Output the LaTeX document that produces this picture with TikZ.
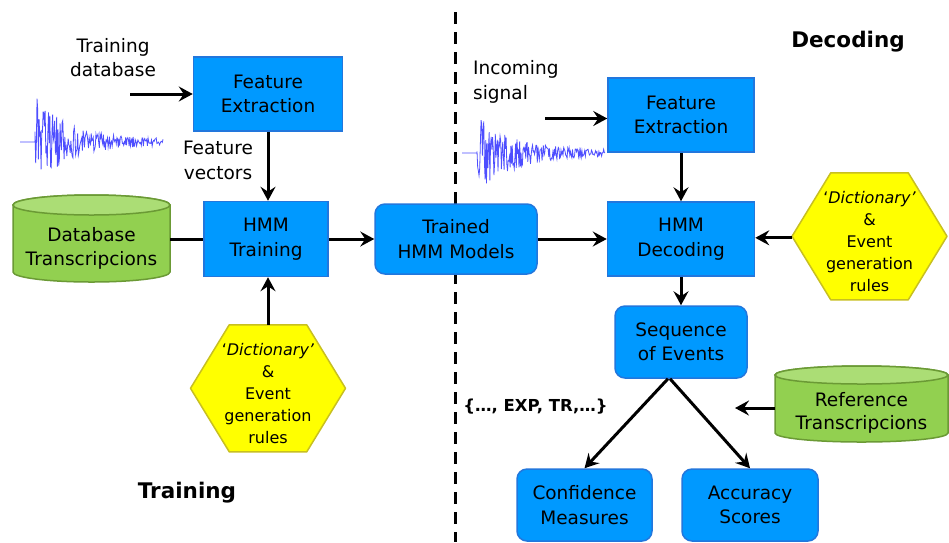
\documentclass[tikz,border=0pt]{standalone}
\usepackage{fontspec}
\setmainfont{DejaVu Sans}
\usetikzlibrary{arrows.meta,calc,backgrounds}
\definecolor{boxblue}{HTML}{0099FF}
\definecolor{boxedge}{HTML}{2277DD}
\definecolor{cylgreen}{HTML}{92D050}
\definecolor{cyltop}{HTML}{ABDD75}
\definecolor{cyledge}{HTML}{6B9A35}
\definecolor{hexyellow}{HTML}{FFFF00}
\definecolor{hexedge}{HTML}{C8C020}
\definecolor{waveblue}{HTML}{2222FF}
\tikzset{
  blk/.style={draw=boxedge, line width=1.5pt, fill=boxblue, align=center,
    font=\fontsize{18.5}{24.5}\selectfont, inner sep=0pt},
  rblk/.style={blk, rounded corners=10pt},
  cylnode/.style={align=center, font=\fontsize{18.5}{23.5}\selectfont, inner sep=0pt},
  hexnode/.style={align=center, font=\fontsize{16}{22}\selectfont, inner sep=0pt,
    minimum width=155pt, minimum height=138pt},
  lbl/.style={align=center, font=\fontsize{18.5}{24.5}\selectfont, inner sep=0pt},
  ttl/.style={font=\fontsize{21.5}{26}\selectfont\bfseries, inner sep=0pt},
  evtxt/.style={font=\fontsize{16.5}{20}\selectfont\bfseries, inner sep=0pt},
  arr/.style={line width=3pt, -{Stealth[length=14pt,width=15pt,inset=5pt]}},
  ln/.style={line width=3pt},
  dashline/.style={line width=3pt, dash pattern=on 12pt off 8pt},
  wave/.style={draw=waveblue, line width=0.8pt, opacity=0.8},
  hexdraw/.style={fill=hexyellow, draw=hexedge, line width=1.5pt, line join=round},
  cylbodystyle/.style={fill=cylgreen, draw=cyledge, line width=1.5pt},
  cyltopstyle/.style={fill=cyltop, draw=cyledge, line width=1.5pt},
}
\newcommand\wavedraw[2]{%
  \pgfmathsetseed{#2}%
  \begin{scope}[shift={#1}]
    \draw[wave] (0,0) -- (15,0) -- plot[domain=15:143, samples=190]
      (\x, {(3+44*exp(-(\x-15)/32))*rand});
  \end{scope}}
\newcommand\cyldraw[4]{% node, half width, half height, ry
  \begin{scope}[shift={(#1.center)}]
    \draw[cylbodystyle] ({-#2},{#3+#4}) -- ({-#2},{-#3+#4})
      arc[start angle=180, end angle=360, x radius=#2, y radius=#4]
      -- ({#2},{#3+#4}) arc[start angle=0, end angle=180, x radius=#2, y radius=#4] -- cycle;
    \draw[cyltopstyle] (0,{#3+#4}) ellipse[x radius=#2, y radius=#4];
  \end{scope}}
\newcommand\hexdrawcmd[1]{%
  \begin{scope}[shift={(#1.north)}]
    \draw[hexdraw] (-38.75,0) -- (38.75,0) -- (77.5,-63.5) -- (38.75,-127)
      -- (-38.75,-127) -- (-77.5,-63.5) -- cycle;
  \end{scope}}
\begin{document}
\begin{tikzpicture}[x=1pt, y=1pt]
\useasboundingbox (0,0) rectangle (949,-542);

% dashed separator
\coordinate (dtop) at (455.5,-12);
\coordinate (dbot) at (455.5,-542);
\draw[dashline] (dtop) -- (dbot);

% waveforms
\wavedraw{(20,-142)}{7}
\wavedraw{(462,-153)}{11}

% boxes
\node[blk, minimum width=149pt, minimum height=74pt] (fe1) at (268,-94) {Feature\\Extraction};
\node[blk, minimum width=124pt, minimum height=75pt] (hmmt) at (266,-239) {HMM\\Training};
\node[rblk, minimum width=162pt, minimum height=70pt] (trained) at (456,-239) {Trained\\HMM Models};
\node[blk, minimum width=146pt, minimum height=74pt] (fe2) at (681,-115) {Feature\\Extraction};
\node[blk, minimum width=147pt, minimum height=74pt] (hmmd) at (681,-239) {HMM\\Decoding};
\node[rblk, minimum width=132pt, minimum height=72pt] (seq) at (681,-342) {Sequence\\of Events};
\node[rblk, minimum width=135pt, minimum height=72pt] (conf) at (584.5,-505) {Confidence\\Measures};
\node[rblk, minimum width=136pt, minimum height=72pt] (acc) at (750,-505) {Accuracy\\Scores};

% cylinders
\node[cylnode, minimum width=157pt, minimum height=67pt] (db) at (91.5,-248.5) {Database\\Transcripcions};
\node[cylnode, minimum width=173pt, minimum height=58pt] (ref) at (861.5,-413) {Reference\\Transcripcions};

% hexagons
\node[hexnode] (dict1) at (268,-394) {‘\textit{Dictionary’}\\\&\\Event\\generation\\rules};
\node[hexnode] (dict2) at (869.5,-242) {‘\textit{Dictionary’}\\\&\\Event\\generation\\rules};

\begin{scope}[on background layer]
  \fill[white] (0,0) rectangle (949,-542);
  \cyldraw{db}{78.5}{33.5}{10}
  \cyldraw{ref}{86.5}{29}{9}
  \hexdrawcmd{dict1}
  \hexdrawcmd{dict2}
\end{scope}

% labels
\node[lbl] (tdbtxt) at (113,-57.5) {Training\\database};
\node[lbl] (fvtxt) at (218,-160.5) {Feature\\vectors};
\node[lbl, align=left, anchor=west] (insig) at (473,-82) {Incoming\\signal};
\node[ttl] (dectitle) at (848,-42) {Decoding};
\node[ttl] (trntitle) at (187,-493) {Training};
\node[evtxt] (evs) at (535.5,-407) {\{…, EXP, TR,…\}};

% connectors
\coordinate (in1) at (130,-94);
\coordinate (in2) at (545,-118.5);
\coordinate (refend) at (735,-408);
\coordinate (d2w) at ($(dict2.north)+(-77.5,-65)$);

\draw[arr] (in1) -- (fe1.west);
\draw[arr] (fe1.south) -- (fe1.south |- hmmt.north);
\draw[ln] ([yshift=9.5pt]db.east) -- (hmmt.west);
\draw[arr] (dict1.north) -- (dict1.north |- hmmt.south);
\draw[arr] (hmmt.east) -- (trained.west);
\draw[arr] (trained.east) -- (hmmd.west);
\draw[arr] (in2) -- (in2 -| fe2.west);
\draw[arr] (fe2.south) -- (hmmd.north);
\draw[arr] (d2w) -- (d2w -| hmmd.east);
\draw[arr] (hmmd.south) -- (seq.north);
\draw[arr] ([xshift=-13pt]seq.south) -- (conf.north);
\draw[arr] ([xshift=-11pt]seq.south) -- (acc.north);
\draw[arr] ([yshift=5pt]ref.west) -- (refend);
\end{tikzpicture}
\end{document}
